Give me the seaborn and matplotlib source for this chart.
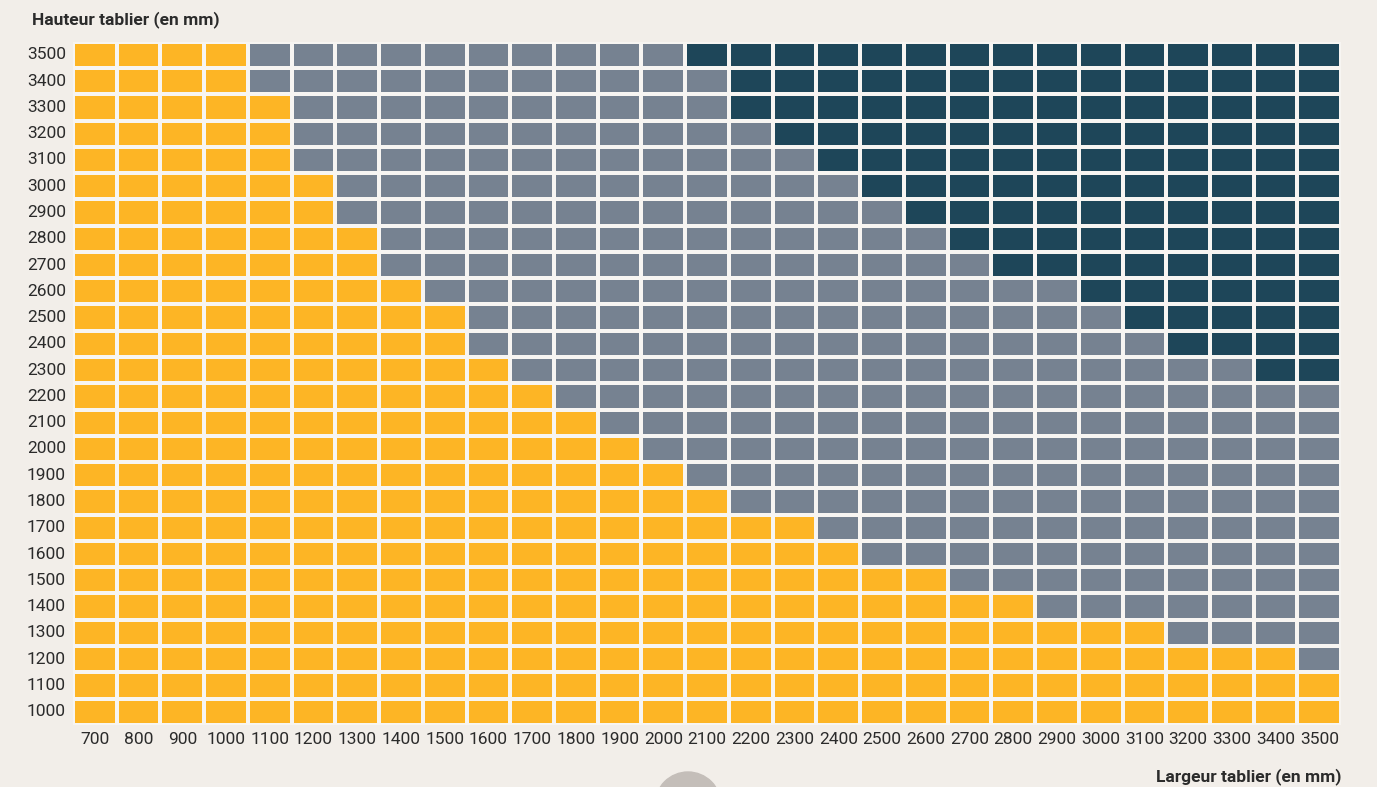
import numpy as np
import pandas as pd
import seaborn as sns
import matplotlib.pyplot as plt
from matplotlib.colors import ListedColormap
from matplotlib.patches import Circle

# Données : hauteur (lignes) x largeur (colonnes)
largeurs = list(range(700, 3600, 100))
hauteurs = list(range(3500, 900, -100))

# pour chaque hauteur (de 3500 à 1000) : dernière largeur jaune, première largeur foncée (None = aucune)
limite_jaune = [1000, 1000, 1100, 1100, 1100, 1200, 1200, 1300, 1300, 1400, 1500, 1500, 1600,
                1700, 1800, 1900, 2000, 2100, 2300, 2400, 2600, 2800, 3100, 3400, 3500, 3500]
debut_fonce = [2100, 2200, 2200, 2300, 2400, 2500, 2600, 2700, 2800, 3000, 3100, 3200, 3400,
               None, None, None, None, None, None, None, None, None, None, None, None, None]

categories = []
for lj, df in zip(limite_jaune, debut_fonce):
    ligne = []
    for l in largeurs:
        if l <= lj:
            ligne.append(0)
        elif df is not None and l >= df:
            ligne.append(2)
        else:
            ligne.append(1)
    categories.append(ligne)

grille = pd.DataFrame(categories, index=hauteurs, columns=largeurs)

fond = "#F2EEE9"
couleurs = ["#FDB525", "#768291", "#1E4659"]

plt.rcParams['font.family'] = ['Liberation Sans Narrow', 'Roboto', 'DejaVu Sans']

fig = plt.figure(figsize=(13.77, 7.87), dpi=100, facecolor=fond)
ax = fig.add_axes([0.053, 0.079, 0.921, 0.868])
ax.set_facecolor(fond)

sns.heatmap(grille, cmap=ListedColormap(couleurs), vmin=-0.5, vmax=2.5, cbar=False,
            linewidths=2.6, linecolor="#F7F5F2", ax=ax)

ax.tick_params(length=0, labelsize=12.5, labelcolor="#2B2B2B", pad=5)
ax.set_yticklabels(hauteurs, rotation=0)
ax.set_xticklabels(largeurs, rotation=0)
ax.set_xlabel("")
ax.set_ylabel("")

fig.text(32 / 1377, 1 - 20 / 787, "Hauteur tablier (en mm)", fontsize=12.5, fontweight="bold",
         color="#2B2B2B", ha="left", va="center")
fig.text(1341 / 1377, 1 - 777 / 787, "Largeur tablier (en mm)", fontsize=12.5, fontweight="bold",
         color="#2B2B2B", ha="right", va="center")

# pastille grise en bas
fig.patches.append(Circle((688, -18), 33, transform=None, color="#C4BEB9", zorder=0))

fig.savefig("out.png", dpi=100, facecolor=fond)
